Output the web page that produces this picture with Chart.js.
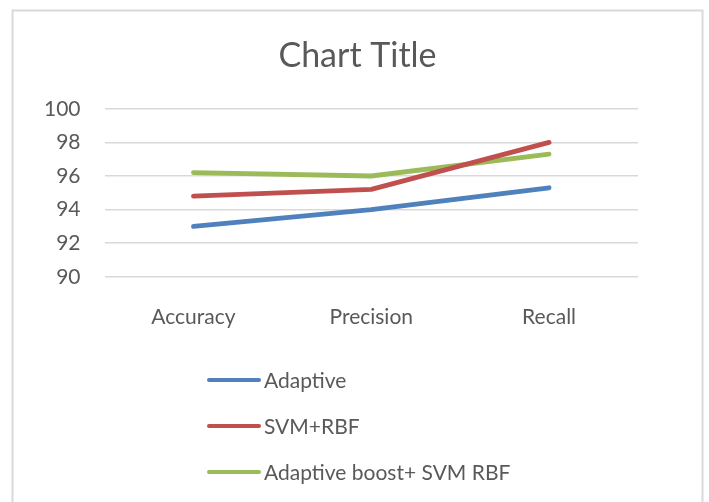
<!DOCTYPE html>
<html>
<head>
<meta charset="utf-8">
<script src="https://cdn.jsdelivr.net/npm/chart.js@4/dist/chart.umd.min.js"></script>
<style>
html,body{margin:0;padding:0;background:#fff;}
#wrap{width:709px;height:502px;position:relative;}
</style>
</head>
<body>
<div id="wrap"><canvas id="c" width="709" height="502"></canvas></div>
<script>
const categories = ["Accuracy", "Precision", "Recall"];
const adaptive = [93.0, 94.0, 95.3];
const svmRbf = [94.8, 95.2, 98.0];
const adaptiveBoostSvm = [96.2, 96.0, 97.3];
const seriesNames = ["Adaptive", "SVM+RBF", "Adaptive boost+ SVM RBF"];
const yTicks = [90, 92, 94, 96, 98, 100];

const TEXT = "#595959";
const FONT = "Lato";

const borderPlugin = {
  id: "frame",
  beforeDraw(chart) {
    const ctx = chart.ctx;
    ctx.save();
    ctx.fillStyle = "#fff";
    ctx.fillRect(0, 0, chart.width, chart.height);
    ctx.strokeStyle = "#d9d9d9";
    ctx.lineWidth = 2;
    ctx.strokeRect(12.5, 10.5, 690, 520);
    ctx.restore();
  }
};

const legendPlugin = {
  id: "vlegend",
  afterDraw(chart) {
    const ctx = chart.ctx;
    ctx.save();
    chart.data.datasets.forEach((ds, i) => {
      const y = 380 + i * 46;
      ctx.strokeStyle = ds.borderColor;
      ctx.lineWidth = 4;
      ctx.lineCap = "round";
      ctx.beginPath();
      ctx.moveTo(209, y);
      ctx.lineTo(259, y);
      ctx.stroke();
      ctx.fillStyle = TEXT;
      ctx.font = "21px " + FONT;
      ctx.textBaseline = "middle";
      ctx.textAlign = "left";
      ctx.fillText(ds.label, 264, y + 1);
    });
    ctx.restore();
  }
};

new Chart(document.getElementById("c"), {
  type: "line",
  data: {
    labels: categories,
    datasets: [
      { label: seriesNames[0], data: adaptive, borderColor: "#4F81BD" },
      { label: seriesNames[1], data: svmRbf, borderColor: "#C0504D" },
      { label: seriesNames[2], data: adaptiveBoostSvm, borderColor: "#9BBB59" }
    ].map(d => Object.assign(d, {
      borderWidth: 4.8, pointRadius: 0, tension: 0, fill: false,
      borderCapStyle: "round", borderJoinStyle: "round"
    }))
  },
  plugins: [borderPlugin, legendPlugin],
  options: {
    responsive: false,
    animation: false,
    layout: { padding: { left: 20, right: 14, top: 36, bottom: 144 } },
    plugins: {
      legend: { display: false },
      tooltip: { enabled: false },
      title: {
        display: true, text: "Chart Title", color: TEXT,
        font: { family: FONT, size: 34, weight: "normal" },
        padding: { top: 0, bottom: 32 }
      }
    },
    scales: {
      x: {
        offset: true,
        grid: { display: false, drawTicks: false },
        border: { display: false },
        ticks: { color: TEXT, font: { family: FONT, size: 21 }, padding: 28 }
      },
      y: {
        min: 90, max: 100,
        afterBuildTicks(scale) { scale.ticks = yTicks.map(v => ({ value: v })); },
        grid: { color: "#d9d9d9", lineWidth: 1.5, drawTicks: false },
        border: { display: false },
        ticks: { color: TEXT, font: { family: FONT, size: 21 }, padding: 24 }
      },
      ySpacer: {
        position: "right",
        min: 90, max: 100,
        grid: { display: false, drawTicks: false },
        border: { display: false },
        ticks: { display: false },
        afterFit(scale) { scale.width = 57; }
      }
    }
  }
});
</script>
</body>
</html>
